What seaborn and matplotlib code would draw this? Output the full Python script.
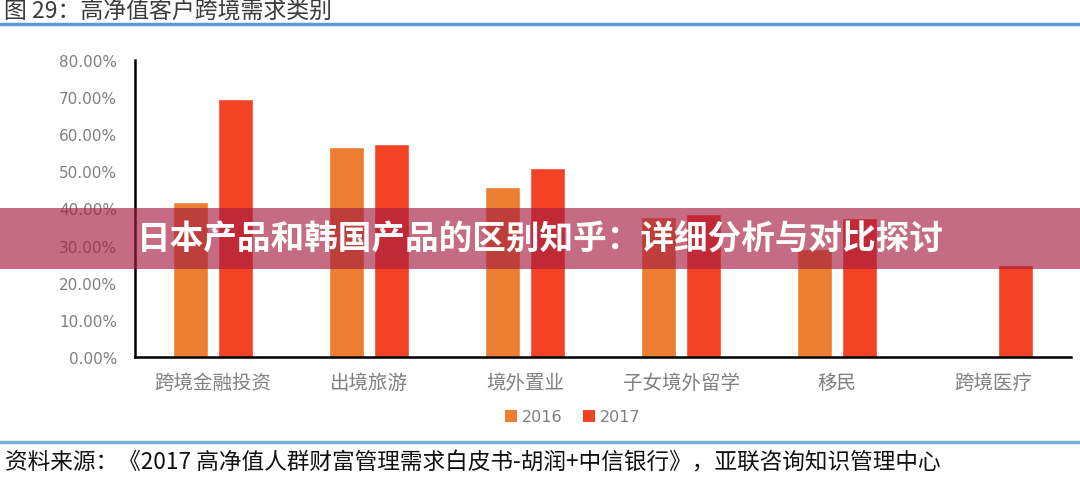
import numpy as np
import pandas as pd
import matplotlib
matplotlib.use("Agg")
import matplotlib.pyplot as plt
import seaborn as sns
from matplotlib.patches import Rectangle, Patch
from matplotlib.lines import Line2D
from matplotlib.ticker import FuncFormatter, FixedLocator

categories = ["跨境金融投资", "出境旅游", "境外置业", "子女境外留学", "移民", "跨境医疗"]
years = ["2016", "2017"]
values_2016 = [41.6, 56.4, 45.7, 37.8, 29.0, np.nan]
values_2017 = [69.3, 57.3, 50.9, 38.6, 37.5, 24.7]
yticks = [0, 10, 20, 30, 40, 50, 60, 70, 80]

title_text = "图 29：高净值客户跨境需求类别"
source_text = "资料来源：《2017 高净值人群财富管理需求白皮书-胡润+中信银行》，亚联咨询知识管理中心"
banner_text = "日本产品和韩国产品的区别知乎：详细分析与对比探讨"

colors = {"2016": "#ED7D31", "2017": "#F44324"}

df = pd.DataFrame({
    "category": categories * 2,
    "year": ["2016"] * len(categories) + ["2017"] * len(categories),
    "value": values_2016 + values_2017,
})

sns.set_style("white")
plt.rcParams["font.family"] = ["Noto Sans CJK SC", "DejaVu Sans"]

W, H = 1080, 481
fig = plt.figure(figsize=(W / 100, H / 100), dpi=100)
ax = fig.add_axes([135 / W, 1 - 358 / H, (1071 - 135) / W, (358 - 60.7) / H])

sns.barplot(data=df, x="category", y="value", hue="year", order=categories,
            hue_order=years, palette=colors, width=0.58, gap=0.22,
            saturation=1, ax=ax, legend=False, err_kws={"linewidth": 0})

ax.set_ylim(0, 80)
ax.set_xlim(-0.5, len(categories) - 0.5)
ax.set_xlabel("")
ax.set_ylabel("")
ax.yaxis.set_major_locator(FixedLocator(yticks))
ax.yaxis.set_major_formatter(FuncFormatter(lambda v, p: f"{v:.2f}%"))
for s in ["top", "right"]:
    ax.spines[s].set_visible(False)
for s in ["left", "bottom"]:
    ax.spines[s].set_color("black")
    ax.spines[s].set_linewidth(1.8)

ax.tick_params(axis="y", direction="in", length=5, width=1.5, color="black",
               labelsize=11, labelcolor="#7F7F7F", pad=13)
for lab in ax.get_yticklabels():
    lab.set_fontfamily("DejaVu Sans")
ax.tick_params(axis="x", which="major", length=0, labelsize=14,
               labelcolor="#808080", pad=11)
ax.xaxis.set_minor_locator(FixedLocator(np.arange(-0.5, len(categories), 1.0)))
ax.tick_params(axis="x", which="minor", direction="in", length=5, width=1.5,
               color="black")
ax.grid(False)

# legend
handles = [Patch(facecolor=colors[y], edgecolor="none", label=y) for y in years]
leg = fig.legend(handles=handles, loc="center", bbox_to_anchor=(573 / W, 1 - 418 / H),
                 ncol=2, frameon=False, handlelength=0.75, handleheight=0.75,
                 handletextpad=0.3, columnspacing=1.3,
                 prop={"family": "DejaVu Sans", "size": 11.5})
for t in leg.get_texts():
    t.set_color("#7F7F7F")

# title and lines
fig.text(4 / W, 1 - 12 / H, title_text, fontsize=16.5, color="#3A3A3A",
         ha="left", va="center")
fig.add_artist(Line2D([0, 1], [1 - 25 / H, 1 - 25 / H], transform=fig.transFigure,
                      color="#5B9BD5", linewidth=2.5))
fig.add_artist(Line2D([0, 1], [1 - 443 / H, 1 - 443 / H], transform=fig.transFigure,
                      color="#7BAFD4", linewidth=2.5))
fig.text(5 / W, 1 - 463 / H, source_text, fontsize=16.3, color="#111111",
         ha="left", va="center", fontstyle="italic")

# banner
fig.add_artist(Rectangle((0, 1 - 270 / H), 1, 61 / H, transform=fig.transFigure,
                         facecolor="#A61C41", alpha=0.65, edgecolor="none", zorder=10))
fig.text(137 / W, 1 - 240 / H, banner_text, fontsize=24.2, color="white",
         fontweight="bold", ha="left", va="center", zorder=11)

fig.savefig("out.png", dpi=100)
